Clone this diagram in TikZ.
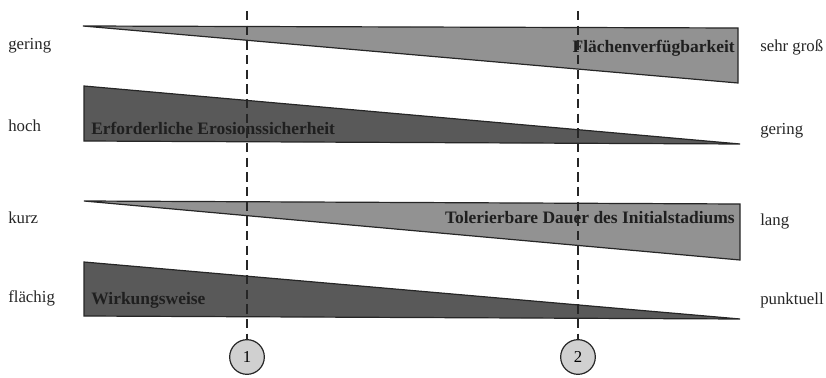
\documentclass[tikz,border=0pt]{standalone}
\usepackage{fontspec}
\setmainfont{Liberation Serif}
\begin{document}
\begin{tikzpicture}[x=0.75pt,y=-0.75pt,
  wedgelight/.style={fill=wedgeL,draw=black!85,line width=0.9pt,line join=miter},
  wedgedark/.style={fill=wedgeD,draw=black!85,line width=0.9pt,line join=miter},
  side/.style={font=\fontsize{12.6}{14}\selectfont,text=black!85,inner sep=0pt},
  inlabel/.style={font=\bfseries\fontsize{13.1}{15}\selectfont,text=black!88,inner sep=0pt},
  marker/.style={circle,draw=black!85,fill=markerfill,line width=0.9pt,minimum size=26pt,inner sep=0pt,font=\fontsize{12.5}{14}\selectfont},
  divider/.style={dashed,line width=0.9pt,draw=black!85,dash pattern=on 7pt off 4pt}]
\definecolor{wedgeL}{HTML}{929292}
\definecolor{wedgeD}{HTML}{595959}
\definecolor{markerfill}{HTML}{D0D0D0}
\useasboundingbox (0,0) rectangle (826,378);

% wedges
\draw[wedgelight] (83,26) -- (738,28) -- (738,83) -- cycle;
\draw[wedgedark]  (84,86) -- (84,141) -- (740,144) -- cycle;
\draw[wedgelight] (84,201) -- (740,204) -- (740,260) -- cycle;
\draw[wedgedark]  (84,262) -- (84,316) -- (740,319) -- cycle;

% labels inside the wedges
\node[inlabel,anchor=east] (lab1) at (735,48) {Flächenverfügbarkeit};
\node[inlabel,anchor=west] (lab2) at (91,128) {Erforderliche Erosionssicherheit};
\node[inlabel,anchor=east] (lab3) at (735,218) {Tolerierbare Dauer des Initialstadiums};
\node[inlabel,anchor=west] (lab4) at (91,300) {Wirkungsweise};

% scale ends
\node[side,anchor=west] (l1) at (8,46) {gering};
\node[side,anchor=west] (l2) at (8,126) {hoch};
\node[side,anchor=west] (l3) at (8,218) {kurz};
\node[side,anchor=west] (l4) at (8,298) {flächig};
\node[side,anchor=west] (r1) at (760,47) {sehr groß};
\node[side,anchor=west] (r2) at (760,131) {gering};
\node[side,anchor=west] (r3) at (760,221) {lang};
\node[side,anchor=west] (r4) at (760,300) {punktuell};

% markers and dividing lines
\node[marker] (m1) at (247,357) {1};
\node[marker] (m2) at (578,357) {2};
\coordinate (t1) at (247,11);
\coordinate (t2) at (578,11);
\draw[divider] (t1) -- (m1);
\draw[divider] (t2) -- (m2);
\end{tikzpicture}
\end{document}
